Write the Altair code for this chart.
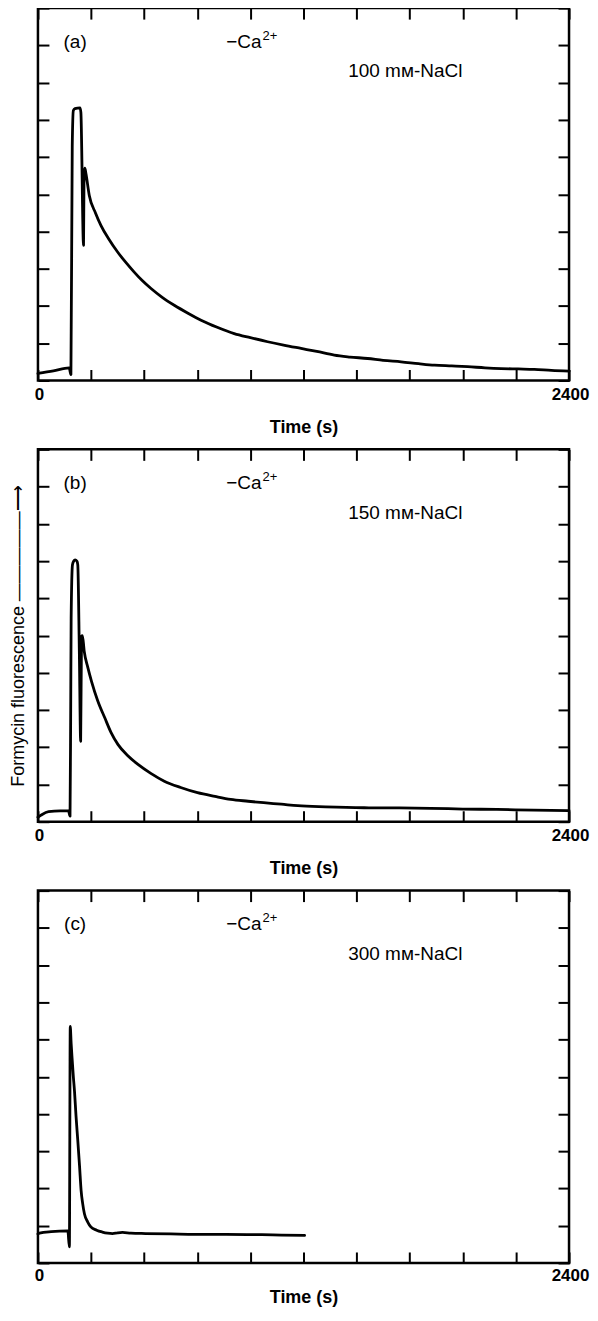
import altair as alt
import pandas as pd

FONT = "Liberation Sans"

# tick positions (s) and fluorescence grid (arbitrary units)
x_ticks = list(range(0, 2401, 240))
y_ticks = list(range(0, 11))

# ---- panel (a) 100 mM NaCl ----
a_t = [0, 70, 141, 149, 155, 160, 167, 190, 194, 206, 208, 212, 217, 232, 260, 285, 320, 360, 400, 435,
       470, 511, 560, 616, 680, 737, 810, 887, 960, 1038, 1110, 1189, 1260, 1339, 1410, 1490, 1560, 1641,
       1720, 1792, 1870, 1942, 2020, 2093, 2170, 2243, 2320, 2400]
a_f = [0.19, 0.26, 0.34, 0.16, 6.3, 7.25, 7.3, 7.32, 7.2, 3.63, 5.3, 5.7, 5.55, 4.97, 4.5, 4.16, 3.8, 3.45, 3.15, 2.91,
       2.69, 2.47, 2.24, 2.02, 1.8, 1.62, 1.43, 1.26, 1.15, 1.04, 0.95, 0.86, 0.78, 0.68, 0.63, 0.59, 0.54, 0.50,
       0.45, 0.41, 0.39, 0.37, 0.34, 0.32, 0.31, 0.30, 0.27, 0.25]

# ---- panel (b) 150 mM NaCl ----
b_t = [0, 15, 48, 100, 138, 145, 148, 150, 156, 162, 168, 176, 180, 187, 193, 197, 201, 209, 225, 242, 270,
       302, 330, 362, 405, 452, 510, 571, 645, 721, 800, 871, 950, 1020, 1100, 1174, 1300, 1474, 1620, 1774,
       1920, 2074, 2240, 2400]
b_f = [0.12, 0.18, 0.27, 0.29, 0.29, 0.15, 3.0, 5.47, 6.9, 7.0, 7.03, 7.0, 6.9, 4.58, 2.16, 4.98, 5.0, 4.58, 4.15,
       3.77, 3.25, 2.79, 2.4, 2.07, 1.78, 1.54, 1.3, 1.09, 0.92, 0.78, 0.68, 0.60, 0.55, 0.51, 0.47, 0.43, 0.40,
       0.375, 0.37, 0.36, 0.34, 0.33, 0.31, 0.30]

# ---- panel (c) 300 mM NaCl ----
c_t = [0, 7, 60, 135, 142, 146, 150, 154, 160, 165, 172, 180, 188, 195, 202, 210, 225, 239, 265, 291, 315, 337,
       360, 382, 420, 486, 600, 711, 850, 1011, 1100, 1205]
c_f = [0.78, 0.80, 0.84, 0.86, 0.43, 6.35, 5.9, 5.52, 5.0, 4.63, 3.95, 3.29, 2.6, 1.95, 1.6, 1.32, 1.1, 0.97, 0.88,
       0.83, 0.8, 0.79, 0.81, 0.82, 0.8, 0.79, 0.78, 0.77, 0.77, 0.76, 0.75, 0.74]

# annotations (positions in data units: time s, fluorescence units)
tag_t, tag_f = 168, 9.1
ca_t, ca_f = 1010, 9.1
nacl_t, nacl_f = 1660, 8.3
tags = ["(a)", "(b)", "(c)"]
nacl = ["100 m\u043c-NaCl", "150 m\u043c-NaCl", "300 m\u043c-NaCl"]
ca_main = "\u2212Ca"
ca_sup = "2+"

Y_TITLE = "Formycin fluorescence \u2014\u2014\u2014\u2014\u2014\u27f6"

W, H = 532, 373


def panel(idx, t, f, with_title, label_pad, x_title_pad):
    xs = alt.Scale(domain=[0, 2400], nice=False, zero=False)
    ys = alt.Scale(domain=[0, 10], nice=False, zero=False)
    tick_common = dict(domain=False, ticks=True, tickSize=11, offset=-11, tickWidth=2,
                       tickColor="black", grid=False, minExtent=0, maxExtent=200)
    y_axis_kw = dict(orient="left", values=y_ticks, labels=False, **tick_common)
    if with_title:
        y_axis_kw.update(title=Y_TITLE, titleFontSize=18, titleFontWeight="normal", titleFont=FONT,
                         titleColor="black", titlePadding=9)
    else:
        y_axis_kw.update(title=None)
    df = pd.DataFrame({"t": t, "f": f, "i": list(range(len(t)))})
    line = alt.Chart(df).mark_line(
        color="black", strokeWidth=2.8, strokeJoin="round", strokeCap="round",
        interpolate="monotone"
    ).encode(
        x=alt.X("t:Q", scale=xs, axis=alt.Axis(
            orient="bottom", values=x_ticks, format="d",
            labelExpr="(datum.value == 0 || datum.value == 2400) ? datum.label : ''",
            labelFlush=False, labelPadding=label_pad, labelFontSize=17, labelFontWeight="bold",
            labelFont=FONT, labelColor="black", labelOffset=1,
            title="Time (s)", titleFontSize=18, titleFontWeight="bold", titleFont=FONT,
            titleColor="black", titlePadding=x_title_pad, **tick_common)),
        y=alt.Y("f:Q", scale=ys, axis=alt.Axis(**y_axis_kw)),
        order=alt.Order("i:Q"),
    )
    adf = pd.DataFrame({"tx": [tag_t, nacl_t], "fy": [tag_f, nacl_f], "lab": [tags[idx], nacl[idx]]})
    ann = alt.Chart(adf).mark_text(
        font=FONT, fontSize=19, color="black", align="center", baseline="middle"
    ).encode(
        x=alt.X("tx:Q", scale=xs, axis=alt.Axis(orient="top", values=x_ticks, labels=False,
                                                title=None, **tick_common)),
        y=alt.Y("fy:Q", scale=ys, axis=alt.Axis(orient="right", values=y_ticks, labels=False,
                                                title=None, **tick_common)),
        text="lab:N",
    )
    cdf = pd.DataFrame({"tx": [ca_t], "fy": [ca_f], "m": [ca_main], "s": [ca_sup]})
    ca1 = alt.Chart(cdf).mark_text(
        font=FONT, fontSize=19, color="black", align="right", baseline="middle"
    ).encode(x=alt.X("tx:Q", scale=xs, axis=None), y=alt.Y("fy:Q", scale=ys, axis=None), text="m:N")
    ca2 = alt.Chart(cdf).mark_text(
        font=FONT, fontSize=13, color="black", align="left", baseline="middle", dx=1, dy=-6
    ).encode(x=alt.X("tx:Q", scale=xs, axis=None), y=alt.Y("fy:Q", scale=ys, axis=None), text="s:N")
    return alt.layer(line, ann, ca1, ca2).resolve_axis(x="independent", y="independent").properties(
        width=W, height=H)


chart = alt.vconcat(
    panel(0, a_t, a_f, False, 6, 16),
    panel(1, b_t, b_f, True, 6, 16),
    panel(2, c_t, c_f, False, 5, 5),
    spacing=69, bounds="flush",
).properties(
    padding={"left": 0, "top": -4, "right": -1, "bottom": 0}
).configure_view(
    stroke="black", strokeWidth=2.5
)

chart.save("out.html", embed_options={"renderer": "svg", "actions": False})
